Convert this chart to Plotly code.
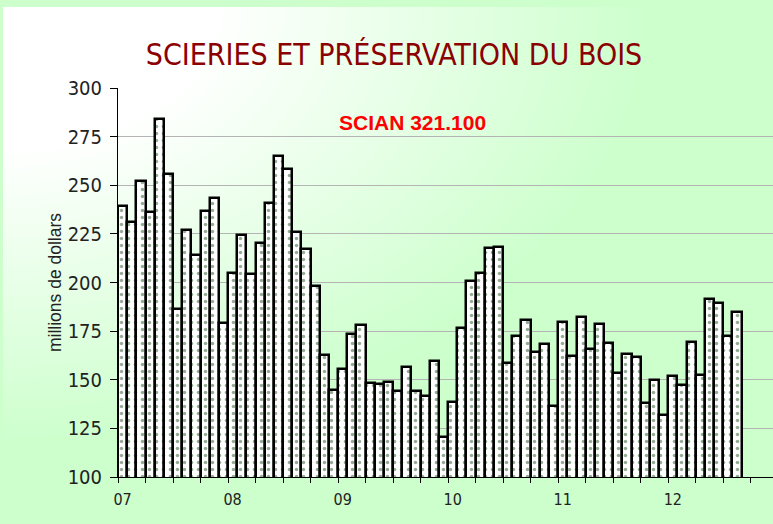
import base64
import plotly.graph_objects as go

# ---- data (millions de dollars, monthly, Jan 2007 - Aug 2012) ----
values_2007 = [239.3, 231.3, 252.2, 236.2, 283.9, 255.8, 186.2, 226.8, 214.1, 236.8, 243.3, 179.0]
values_2008 = [204.7, 224.6, 204.4, 220.5, 241.0, 264.9, 258.5, 225.8, 217.4, 198.4, 162.7, 144.7]
values_2009 = [155.5, 173.5, 178.1, 148.2, 147.8, 149.0, 144.4, 156.7, 144.4, 141.6, 159.6, 120.7]
values_2010 = [138.7, 176.4, 200.8, 204.7, 217.6, 218.4, 158.4, 172.5, 180.7, 164.1, 168.4, 136.7]
values_2011 = [179.9, 162.4, 182.4, 165.8, 178.5, 169.1, 153.3, 163.2, 161.5, 138.2, 149.7, 131.9]
values_2012 = [151.9, 147.3, 169.6, 152.4, 191.5, 189.6, 172.5, 184.7]

year_labels = ["07", "08", "09", "10", "11", "12"]
y_ticks = [100, 125, 150, 175, 200, 225, 250, 275, 300]

values = values_2007 + values_2008 + values_2009 + values_2010 + values_2011 + values_2012
x_pos = list(range(len(values)))
year_pos = [12 * i for i in range(len(year_labels))]

# ---- style ----
W, H = 773, 524
ML, MR, MT, MB = 118, 0, 88, 47
PW, PH = W - ML - MR, H - MT - MB
NARROW = "Liberation Sans Narrow, Arial Narrow, DejaVu Sans Condensed, sans-serif"
ARIAL = "Liberation Sans, Arial, sans-serif"

svg = (
    '<svg xmlns="http://www.w3.org/2000/svg" width="770" height="517" viewBox="0 0 770 517" '
    'preserveAspectRatio="none"><defs><radialGradient id="g" cx="0" cy="0" r="1" '
    'gradientUnits="objectBoundingBox">'
    '<stop offset="0" stop-color="#ffffff"/><stop offset="0.27" stop-color="#ffffff"/>'
    '<stop offset="0.85" stop-color="#ccffcc"/><stop offset="1" stop-color="#ccffcc"/>'
    '</radialGradient></defs><rect width="770" height="517" fill="url(#g)"/></svg>'
)
bg_uri = "data:image/svg+xml;base64," + base64.b64encode(svg.encode()).decode()

x_max = PW / 9.17 - 0.5

fig = go.Figure()
fig.add_trace(go.Bar(
    x=x_pos, y=values, width=1.0,
    marker=dict(
        color="white",
        line=dict(color="black", width=2.5),
        pattern=dict(shape=".", fgcolor="#2a5a2a", bgcolor="white", size=7, solidity=0.2),
    ),
    showlegend=False,
))

fig.update_layout(
    width=W, height=H,
    margin=dict(l=ML, r=MR, t=MT, b=MB, pad=0),
    paper_bgcolor="#ccffcc",
    plot_bgcolor="rgba(0,0,0,0)",
    bargap=0,
    title=dict(
        text="SCIERIES ET PRÉSERVATION DU BOIS",
        font=dict(family=NARROW, size=30, color="#8B0000"),
        x=394 / W, xref="container", xanchor="center",
        y=1 - 54 / H, yref="container", yanchor="middle",
    ),
    images=[dict(
        source=bg_uri, xref="paper", yref="paper",
        x=(3 - ML) / PW, y=(MT + PH - 7) / PH,
        sizex=(W - 3) / PW, sizey=(H - 7) / PH,
        xanchor="left", yanchor="top", sizing="stretch", layer="below",
    )],
    annotations=[dict(
        text="<b>SCIAN 321.100</b>", xref="paper", yref="paper",
        x=(412 - ML) / PW, y=(MT + PH - 122) / PH,
        xanchor="center", yanchor="middle", showarrow=False,
        font=dict(family=ARIAL, size=21, color="#ff0000"),
    )],
)

fig.update_xaxes(
    range=[-0.5, x_max],
    tickmode="array", tickvals=year_pos, ticktext=year_labels,
    ticks="", tickfont=dict(family=NARROW, size=16, color="#222222"),
    ticklabelstandoff=8,
    showline=True, linecolor="black", linewidth=1,
    showgrid=False, zeroline=False,
    minor=dict(tickmode="linear", tick0=-0.5, dtick=3, ticks="outside",
               ticklen=5, tickcolor="black", tickwidth=1, showgrid=False),
)
fig.update_yaxes(
    range=[100, 300],
    tickmode="array", tickvals=y_ticks,
    ticks="outside", ticklen=7, tickcolor="black", tickwidth=1,
    tickfont=dict(family=NARROW, size=20, color="#222222"),
    ticklabelstandoff=4,
    showline=True, linecolor="black", linewidth=1,
    showgrid=True, gridcolor="#b4b4b4", gridwidth=1,
    zeroline=False,
    title=dict(text="millions de dollars", font=dict(family=ARIAL, size=17.5, color="#222222"), standoff=1),
)

fig.write_html(
    "out.html",
    config={"displayModeBar": False},
    post_script="document.body.style.margin='0';document.body.style.padding='0';",
)
